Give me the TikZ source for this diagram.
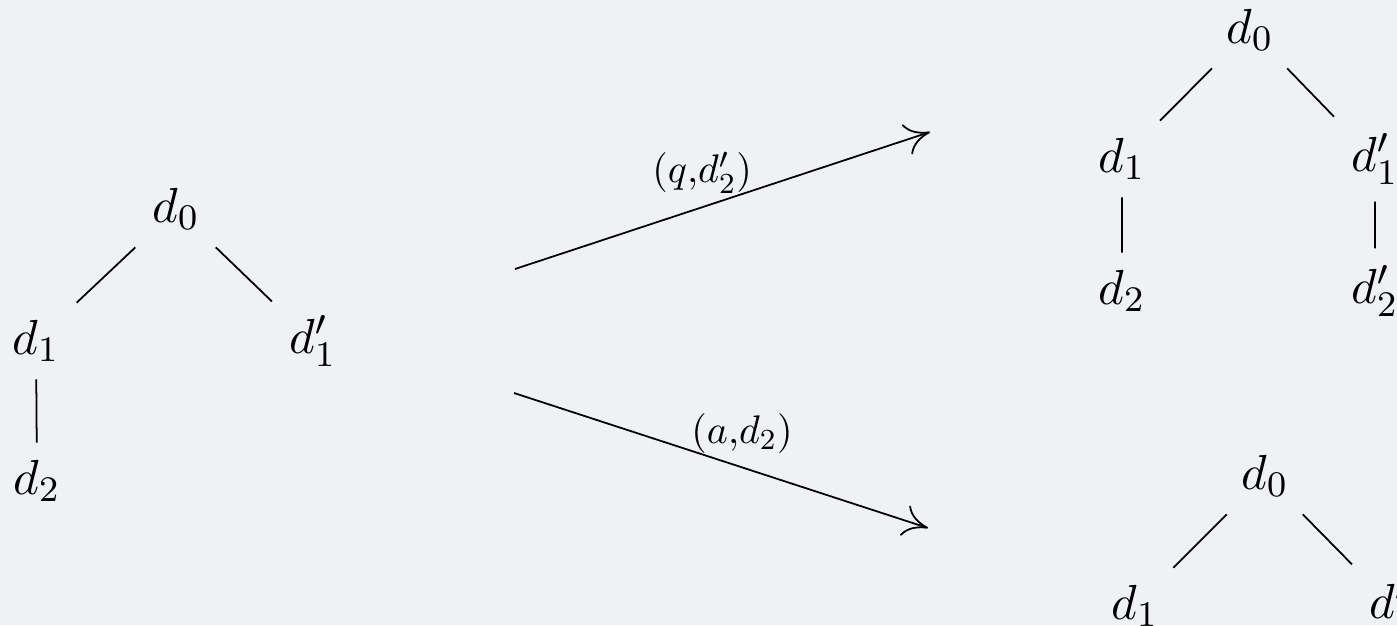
\documentclass[tikz,border=0pt,11pt]{standalone}
\usetikzlibrary{arrows.meta}
\definecolor{slidebg}{HTML}{EFF1F4}

\begin{document}
\begin{tikzpicture}[line width=0.5pt,
    every node/.style={scale=1.28},
    lbl/.style={scale=0.81},
    move/.style={-{Computer Modern Rightarrow[length=7pt,width=9pt]}}]
            \fill[slidebg] (0,0) rectangle (13.97,6.25);
            \clip (0,0) rectangle (13.97,6.25);
            % tree before the move
            \node (L0) at (1.76,4.16) {$d_0$};
            \node (L1) at (0.36,2.84) {$d_1$};
            \node (L1p) at (3.13,2.84) {$d_1'$};
            \node (L2) at (0.37,1.44) {$d_2$};
            \draw (L0) -- (L1);
            \draw (L0) -- (L1p);
            \draw (L1) -- (L2);
            % tree after (q,d_2')
            \node (U0) at (12.50,5.95) {$d_0$};
            \node (U1) at (11.22,4.66) {$d_1$};
            \node (U1p) at (13.75,4.66) {$d_1'$};
            \node (U2) at (11.22,3.34) {$d_2$};
            \node (U2p) at (13.75,3.34) {$d_2'$};
            \draw (U0) -- (U1);
            \draw (U0) -- (U1p);
            \draw (U1) -- (U2);
            \draw (U1p) -- (U2p);
            % tree after (a,d_2)
            \node (D0) at (12.65,1.49) {$d_0$};
            \node (D1) at (11.35,0.19) {$d_1$};
            \node (D1p) at (13.93,0.19) {$d_1'$};
            \draw (D0) -- (D1);
            \draw (D0) -- (D1p);
            % the two moves
            \coordinate (qs) at (5.15,3.56);
            \coordinate (qe) at (9.30,4.93);
            \coordinate (as) at (5.14,2.32);
            \coordinate (ae) at (9.28,0.97);
            \draw[move] (qs) -- node[lbl, pos=0.451, above] (ql) {$(q{,}d_2')$} (qe);
            \draw[move] (as) -- node[lbl, pos=0.551, above] (al) {$(a{,}d_2)$} (ae);
            %\draw[red] (0,0) grid (14,7);
\end{tikzpicture}
\end{document}
